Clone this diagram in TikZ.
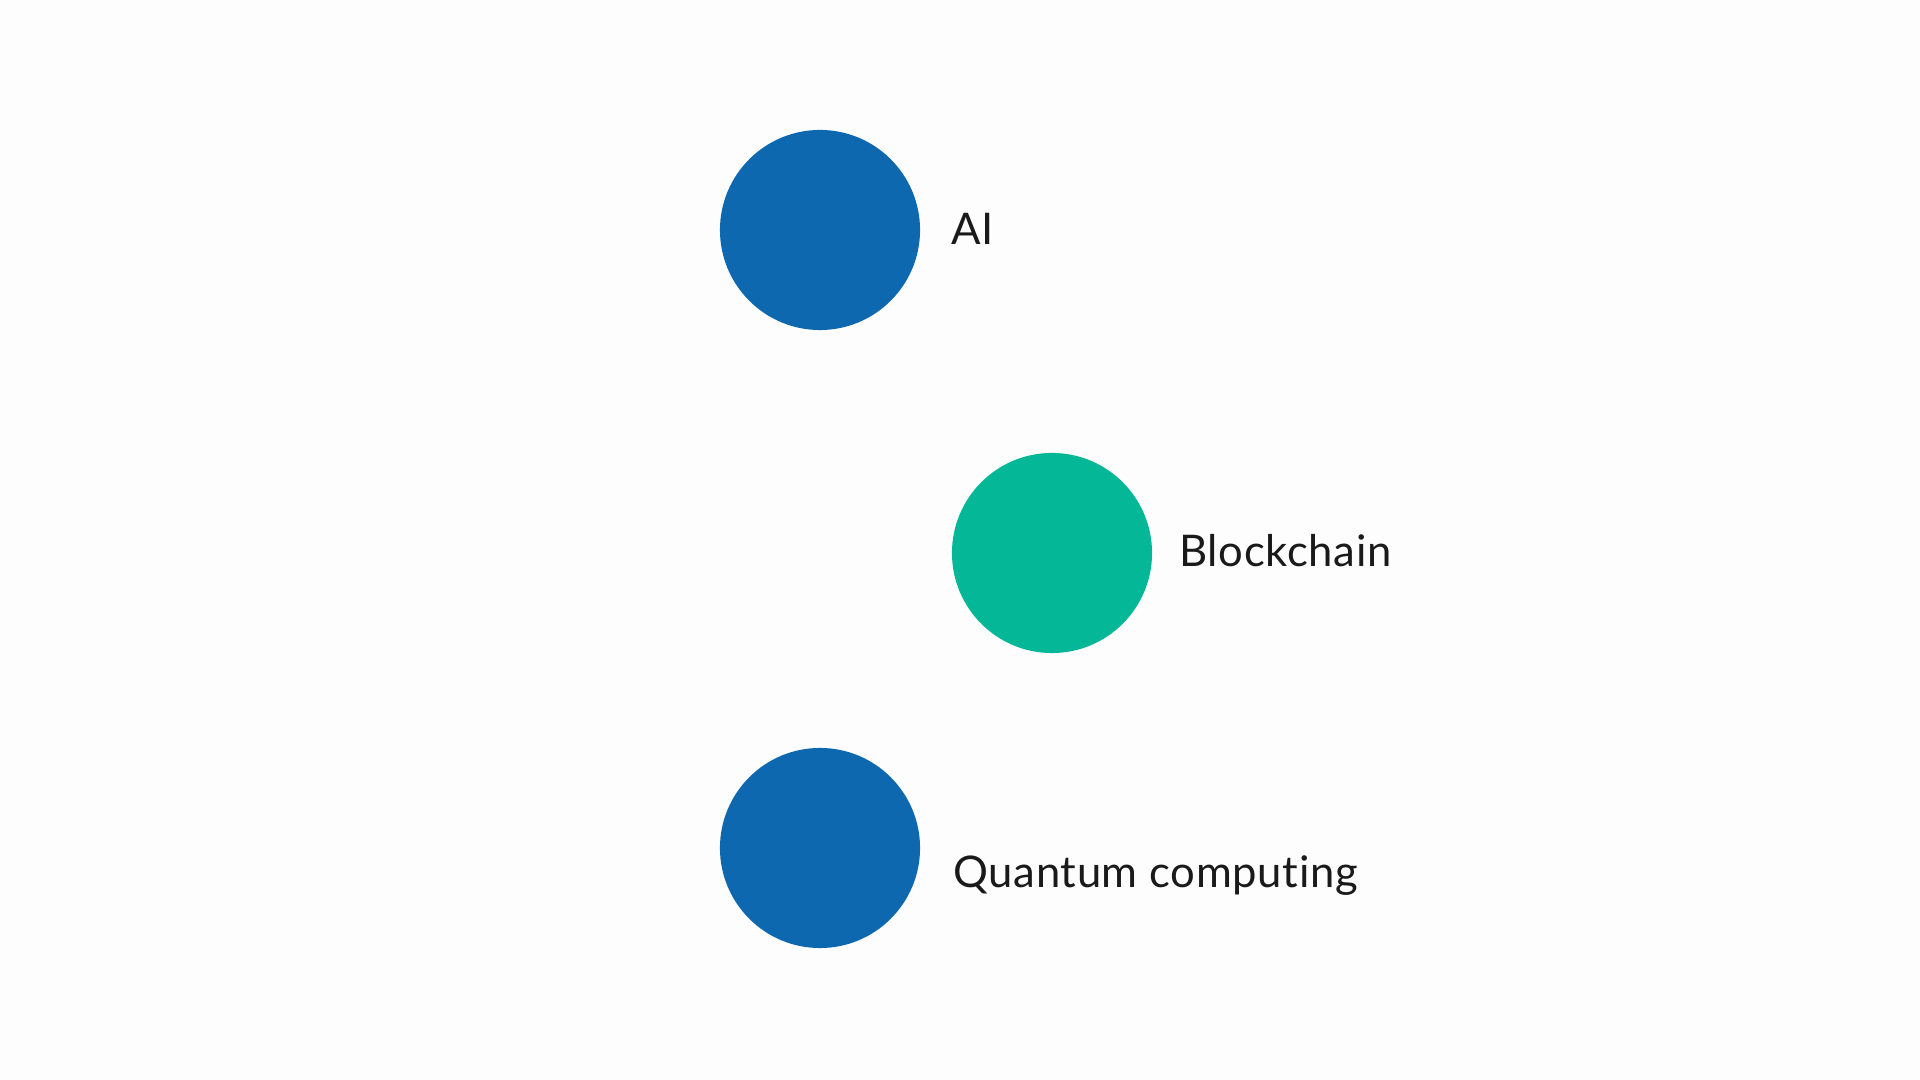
\documentclass[tikz,border=0pt]{standalone}
\usepackage{fontspec}
\setmainfont{Lato}[Ligatures={NoCommon}, LetterSpace=1.5]
\usetikzlibrary{positioning}
\definecolor{techblue}{HTML}{0E68AF}
\definecolor{techgreen}{HTML}{03B797}
\definecolor{ink}{HTML}{1A1A1A}
\definecolor{paper}{HTML}{FDFDFD}
\begin{document}
\begin{tikzpicture}[x=0.01cm, y=-0.01cm,
    dot/.style={circle, minimum size=2cm, inner sep=0pt},
    tag/.style={anchor=base west, inner sep=0pt, text=ink, font=\fontsize{12.4}{14}\selectfont}]
    \fill[paper] (0,0) rectangle (1920,1080);
    \foreach \n/\x/\y/\c in {ai/820/230/techblue, chain/1052/553/techgreen, quantum/820/848/techblue} { \node[dot, fill=\c] (\n) at (\x, \y) {}; }
    \node[tag] (ailabel) at ([shift={(30,15)}]ai.east) {AI};
    \node[tag] (chainlabel) at ([shift={(26,14)}]chain.east) {Blockchain};
    \node[tag] (quantumlabel) at ([shift={(32,40)}]quantum.east) {Quantum computing};
  \end{tikzpicture}
\end{document}
